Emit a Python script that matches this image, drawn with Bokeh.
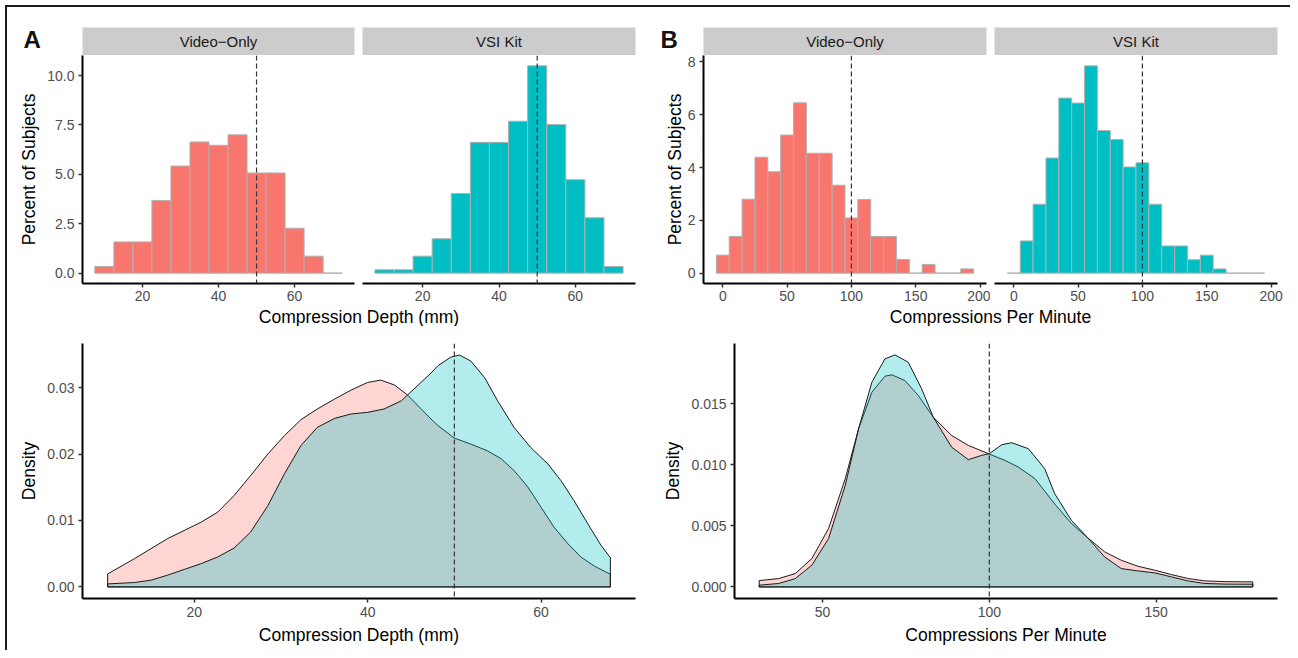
from bokeh.plotting import figure
from bokeh.models import Range1d, FixedTicker, NumeralTickFormatter, Span
from bokeh.layouts import row, column
from bokeh.core.properties import value
from bokeh.embed import file_html
from bokeh.resources import INLINE

# ---------------- data ----------------
groups = ["Video\u2212Only", "VSI Kit"]
panel_letters = ["A", "B"]

depth_bin_centers = [10, 15, 20, 25, 30, 35, 40, 45, 50, 55, 60, 65, 70]
depth_bin_width = 5
depth_video_pct = [0.34, 1.58, 1.58, 3.68, 5.42, 6.64, 6.47, 7.00, 5.07, 5.07, 2.27, 0.86, 0.0]
depth_vsi_pct = [0.17, 0.17, 0.86, 1.74, 4.03, 6.62, 6.62, 7.69, 10.49, 7.52, 4.73, 2.80, 0.34]

rate_bin_centers = [0, 10, 20, 30, 40, 50, 60, 70, 80, 90, 100, 110, 120, 130, 140, 150, 160, 170, 180, 190]
rate_bin_width = 10
rate_video_pct = [0.68, 1.39, 2.80, 4.39, 3.84, 5.23, 6.45, 4.54, 4.54, 3.33, 2.09, 2.79, 1.39, 1.39, 0.52, 0.0, 0.33, 0.0, 0.0, 0.16]
rate_vsi_pct = [0.0, 1.22, 2.61, 4.36, 6.63, 6.44, 7.85, 5.40, 5.06, 4.02, 4.18, 2.61, 1.03, 1.03, 0.51, 0.68, 0.16, 0.0, 0.0, 0.0]

depth_dens_video_x = [10, 13.1, 16.9, 20.8, 22.7, 24.6, 26.5, 28.5, 30.4, 32.3, 34.2, 36.2, 38.1, 40.0, 41.5, 43.1, 44.6,
                      47.3, 48.1, 50.0, 51.9, 53.8, 55.4, 56.9, 58.5, 60.0, 61.5, 63.1, 64.6, 66.2, 68]
depth_dens_video_y = [0.00195, 0.00426, 0.00726, 0.00976, 0.01126, 0.01377, 0.01677, 0.02003, 0.02278, 0.02518, 0.02679,
                      0.02829, 0.02964, 0.03078, 0.03114, 0.03039, 0.02889, 0.02529, 0.0243, 0.0224, 0.0215, 0.0205,
                      0.0193, 0.0175, 0.0150, 0.0120, 0.0090, 0.0065, 0.0045, 0.0031, 0.0019]
depth_dens_vsi_x = [10, 13.1, 15.0, 16.9, 18.9, 20.8, 22.7, 24.6, 26.5, 28.5, 30.4, 32.3, 34.2, 36.2, 38.1, 40.0, 41.9,
                    43.9, 44.6, 47.3, 48.1, 49.6, 50.6, 51.9, 53.5, 55.0, 56.9, 58.8, 60.8, 62.3, 63.8, 65.4, 66.9, 68]
depth_dens_vsi_y = [0.00045, 0.00066, 0.00101, 0.00176, 0.00266, 0.00351, 0.00451, 0.00586, 0.00826, 0.01227, 0.01703,
                    0.02128, 0.02403, 0.02538, 0.02604, 0.02628, 0.02679, 0.02803, 0.02889, 0.03219, 0.0333, 0.0346,
                    0.0349, 0.0340, 0.0315, 0.0280, 0.0240, 0.0210, 0.0185, 0.0160, 0.0130, 0.0095, 0.0063, 0.0044]

rate_dens_video_x = [31, 36.8, 41.8, 46.8, 51.8, 56.8, 60.8, 64.8, 68.7, 70.8, 74.7, 78.7, 83.2, 88.7, 93.7, 99.7,
                     104.7, 108.7, 113.7, 119.6, 124.6, 129.6, 134.6, 139.6, 144.6, 149.6, 154.6, 159.6, 164.6, 171, 179]
rate_dens_video_y = [0.00052, 0.00068, 0.00109, 0.00232, 0.00478, 0.00887, 0.01296, 0.01596, 0.01727, 0.01738, 0.01691,
                     0.01569, 0.01391, 0.01241, 0.0116, 0.01092, 0.01037, 0.00982, 0.00887, 0.0068, 0.0052, 0.0040,
                     0.00287, 0.00218, 0.00169, 0.00137, 0.00101, 0.00069, 0.00049, 0.00043, 0.00041]
rate_dens_vsi_x = [31, 36.8, 41.8, 46.8, 51.8, 56.8, 60.8, 64.8, 68.7, 71.7, 75.7, 79.7, 83.2, 88.7, 93.7, 97.7, 100,
                   103.7, 106.7, 111.7, 116.6, 119.6, 124.6, 129.6, 134.6, 139.6, 144.6, 149.6, 154.6, 159.6, 164.6, 171, 179]
rate_dens_vsi_y = [0.00014, 0.00028, 0.00068, 0.00178, 0.00396, 0.00832, 0.01296, 0.01678, 0.01869, 0.01902, 0.01841,
                   0.01624, 0.01391, 0.01146, 0.01043, 0.01078, 0.01092, 0.01165, 0.01182, 0.01133, 0.00969, 0.00764,
                   0.00546, 0.0040, 0.00245, 0.0015, 0.00131, 0.00115, 0.00082, 0.00049, 0.00028, 0.00023, 0.00022]

depth_title = "Compression Depth (mm)"
rate_title = "Compressions Per Minute"
hist_ylabel = "Percent of Subjects"
dens_ylabel = "Density"
depth_ref = 50
rate_ref = 100

depth_hist_xticks = [20, 40, 60]
depth_hist_yticks = [0, 2.5, 5, 7.5, 10]
rate_hist_xticks = [0, 50, 100, 150, 200]
rate_hist_yticks = [0, 2, 4, 6, 8]
depth_dens_xticks = [20, 40, 60]
depth_dens_yticks = [0, 0.01, 0.02, 0.03]
rate_dens_xticks = [50, 100, 150]
rate_dens_yticks = [0, 0.005, 0.010, 0.015]

# ---------------- style ----------------
FONT = "Liberation Sans"
RED = "#F8766D"
TEAL = "#00BFC4"
STRIP = "#CCCCCC"


def style_axes(p):
    for ax in p.axis:
        ax.axis_line_color = "black"
        ax.axis_line_width = 2
        ax.major_tick_line_color = "#333333"
        ax.major_tick_line_width = 1.5
        ax.major_tick_out = 4
        ax.major_tick_in = 0
        ax.minor_tick_line_color = None
        ax.major_label_text_font = FONT
        ax.major_label_text_font_size = "14px"
        ax.major_label_text_color = "#4D4D4D"
        ax.major_label_standoff = 4
        ax.axis_label_text_font = FONT
        ax.axis_label_text_font_size = "17.5px"
        ax.axis_label_text_font_style = "normal"
        ax.axis_label_text_color = "black"
        ax.axis_label_standoff = 5
    p.xgrid.visible = False
    p.ygrid.visible = False


def plain_fig(width, height, left, right, top, bottom, bg="white"):
    p = figure(width=width, height=height, x_range=Range1d(0, 1), y_range=Range1d(0, 1),
               toolbar_location=None, output_backend="svg", x_axis_location=None, y_axis_location=None,
               min_border_left=left, min_border_right=right, min_border_top=top, min_border_bottom=bottom,
               outline_line_color=None, background_fill_color=bg, border_fill_color="white")
    p.xgrid.visible = False
    p.ygrid.visible = False
    return p


def strip_fig(width, left, right, text):
    p = plain_fig(width, 48, left, right, 20, 0, bg=STRIP)
    p.text(x=[0.5], y=[0.5], text=[text], text_align="center", text_baseline="middle",
           text_font=value(FONT), text_font_size="15px", text_color="#1A1A1A")
    return p


def letter_fig(width, letter, x):
    p = plain_fig(width, 48, 0, 0, 0, 0)
    p.text(x=[x], y=[0.56], text=[letter], text_align="left", text_baseline="middle",
           text_font=value(FONT), text_font_size="24px", text_font_style="bold", text_color="#111111")
    return p


def title_fig(width, left, right, text):
    p = plain_fig(width, 20, left, right, 0, 0)
    p.text(x=[0.5], y=[1.0], text=[text], text_align="center", text_baseline="top",
           text_font=value(FONT), text_font_size="17.5px", text_color="black")
    return p


def hist_fig(width, left, right, xr, yr, centers, binw, pct, color, xticks, yticks, yfmt, show_y, ref):
    p = figure(width=width, height=251, x_range=Range1d(*xr), y_range=Range1d(*yr),
               toolbar_location=None, output_backend="svg",
               y_axis_location="left" if show_y else None,
               min_border_left=left, min_border_right=right, min_border_top=0, min_border_bottom=23,
               outline_line_color=None, background_fill_color="white", border_fill_color="white")
    p.quad(left=[c - binw / 2 for c in centers], right=[c + binw / 2 for c in centers],
           bottom=0, top=pct, fill_color=color, line_color="#B0B0B0", line_width=1)
    p.add_layout(Span(location=ref, dimension="height", line_color="#333333",
                      line_dash="5 3", line_width=1.2))
    p.xaxis.ticker = FixedTicker(ticks=xticks)
    if show_y:
        p.yaxis.ticker = FixedTicker(ticks=yticks)
        if yfmt:
            p.yaxis.formatter = NumeralTickFormatter(format=yfmt)
        p.yaxis.axis_label = hist_ylabel
    style_axes(p)
    p.xaxis.major_label_standoff = 3
    return p


def dens_fig(width, left, right, xr, yr, vx, vy, kx, ky, xticks, yticks, yfmt, xlabel, ref):
    p = figure(width=width, height=324, x_range=Range1d(*xr), y_range=Range1d(*yr),
               toolbar_location=None, output_backend="svg",
               min_border_left=left, min_border_right=right, min_border_top=17, min_border_bottom=52,
               outline_line_color=None, background_fill_color="white", border_fill_color="white")
    for xs, ys, col in ((vx, vy, RED), (kx, ky, TEAL)):
        px = [xs[0]] + list(xs) + [xs[-1]]
        py = [0] + list(ys) + [0]
        p.patch(px, py, fill_color=col, fill_alpha=0.3, line_color="#1A1A1A", line_width=1,
                line_join="round")
    p.add_layout(Span(location=ref, dimension="height", line_color="#333333",
                      line_dash="5 3", line_width=1.2))
    p.xaxis.ticker = FixedTicker(ticks=xticks)
    p.yaxis.ticker = FixedTicker(ticks=yticks)
    p.yaxis.formatter = NumeralTickFormatter(format=yfmt)
    p.xaxis.axis_label = xlabel
    p.yaxis.axis_label = dens_ylabel
    style_axes(p)
    return p


# ---------------- top row ----------------
lA = letter_fig(75, panel_letters[0], 0.213)
s1 = strip_fig(276, 0, 4, groups[0])
s2 = strip_fig(282, 4, 5, groups[1])
lB = letter_fig(63, panel_letters[1], 0.317)
s3 = strip_fig(287, 0, 4, groups[0])
s4 = strip_fig(300, 4, 13, groups[1])

depth_xr = (4.25, 75.75)
depth_yr = (-0.525, 11.015)
rate_xr = (-15, 205)
rate_yr = (-0.3925, 8.2425)

h1 = hist_fig(351, 75, 4, depth_xr, depth_yr, depth_bin_centers, depth_bin_width, depth_video_pct, RED,
              depth_hist_xticks, depth_hist_yticks, "0.0", True, depth_ref)
h2 = hist_fig(282, 4, 5, depth_xr, depth_yr, depth_bin_centers, depth_bin_width, depth_vsi_pct, TEAL,
              depth_hist_xticks, depth_hist_yticks, "0.0", False, depth_ref)
h3 = hist_fig(350, 63, 4, rate_xr, rate_yr, rate_bin_centers, rate_bin_width, rate_video_pct, RED,
              rate_hist_xticks, rate_hist_yticks, None, True, rate_ref)
h4 = hist_fig(300, 4, 13, rate_xr, rate_yr, rate_bin_centers, rate_bin_width, rate_vsi_pct, TEAL,
              rate_hist_xticks, rate_hist_yticks, None, False, rate_ref)
h3.yaxis.axis_label_standoff = 0

tA = title_fig(633, 75, 5, depth_title)
tB = title_fig(650, 63, 13, rate_title)

# ---------------- bottom row ----------------
dA = dens_fig(653, 75, 25, (7.1, 70.9), (-0.001745, 0.036645),
              depth_dens_video_x, depth_dens_video_y, depth_dens_vsi_x, depth_dens_vsi_y,
              depth_dens_xticks, depth_dens_yticks, "0.00", depth_title, depth_ref)
dB = dens_fig(630, 73, 13, (23.6, 186.4), (-0.00095, 0.01995),
              rate_dens_video_x, rate_dens_video_y, rate_dens_vsi_x, rate_dens_vsi_y,
              rate_dens_xticks, rate_dens_yticks, "0.000", rate_title, rate_ref)

top = row(column(row(lA, s1, spacing=0), h1, spacing=0), column(s2, h2, spacing=0),
          column(row(lB, s3, spacing=0), h3, spacing=0), column(s4, h4, spacing=0), spacing=0)
mid = row(tA, tB, spacing=0)
bot = row(dA, dB, spacing=0)
layout = column(top, mid, bot, spacing=0,
                styles={"margin-left": "5px", "margin-top": "5px",
                        "border-left": "2px solid #1A1A1A", "border-top": "2px solid #1A1A1A"})

open("out.html", "w").write(file_html(layout, INLINE))
